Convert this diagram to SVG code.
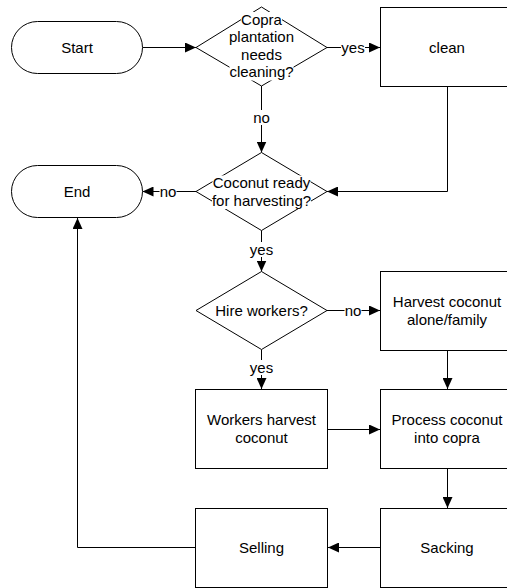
<svg xmlns="http://www.w3.org/2000/svg" width="507" height="588" viewBox="0 0 507 588">
<style>
.s{fill:#fff;stroke:#000;stroke-width:1}
.t{font-family:"Liberation Sans",Arial,sans-serif;font-size:15px;fill:#000;text-anchor:middle}
.c{fill:none;stroke:#000;stroke-width:1}
.bg{fill:#fff;stroke:none}
</style>
<defs>
<marker id="a" markerUnits="userSpaceOnUse" markerWidth="11" markerHeight="10" refX="11" refY="5" orient="auto">
<path d="M0,0 L11,5 L0,10 z" fill="#000"/>
</marker>
</defs>
<rect width="507" height="588" fill="#fff"/>
<g id="connectors">
<path class="c" d="M142.5 47.5 H196" marker-end="url(#a)"/>
<path class="c" d="M327 47.5 H380" marker-end="url(#a)"/>
<path class="c" d="M447.5 86.5 V191.5 H327" marker-end="url(#a)"/>
<path class="c" d="M261.5 86 V152.5" marker-end="url(#a)"/>
<path class="c" d="M196 191.5 H142.5" marker-end="url(#a)"/>
<path class="c" d="M261.5 230.5 V271.5" marker-end="url(#a)"/>
<path class="c" d="M327 310.5 H380" marker-end="url(#a)"/>
<path class="c" d="M447.5 350.5 V389" marker-end="url(#a)"/>
<path class="c" d="M261.5 349.5 V389" marker-end="url(#a)"/>
<path class="c" d="M327.5 429.5 H380" marker-end="url(#a)"/>
<path class="c" d="M447.5 468.5 V508" marker-end="url(#a)"/>
<path class="c" d="M380.5 547.5 H328" marker-end="url(#a)"/>
<path class="c" d="M195.5 547.5 H77.5 V218" marker-end="url(#a)"/>
<rect class="bg" x="341" y="40" width="24" height="15"/>
<text class="t" x="353" y="52.5">yes</text>
<rect class="bg" x="253" y="110" width="17" height="15"/>
<text class="t" x="261.5" y="122.5">no</text>
<rect class="bg" x="159.5" y="184" width="17" height="15"/>
<text class="t" x="168" y="196.5">no</text>
<rect class="bg" x="249.5" y="242" width="24" height="15"/>
<text class="t" x="261.5" y="254.5">yes</text>
<rect class="bg" x="344.5" y="303" width="17" height="15"/>
<text class="t" x="353" y="315.5">no</text>
<rect class="bg" x="249.5" y="360" width="24" height="15"/>
<text class="t" x="261.5" y="372.5">yes</text>
</g>
<g id="start">
<rect class="s" x="11.5" y="21.5" width="131" height="52" rx="26"/>
<text class="t" x="77" y="52.5">Start</text>
</g>
<g id="end">
<rect class="s" x="11.5" y="165.5" width="131" height="52" rx="26"/>
<text class="t" x="77" y="196.5">End</text>
</g>
<g id="d1">
<polygon class="s" points="261.5,7 327,47.5 261.5,86 196,47.5"/>
<rect class="bg" x="241" y="12" width="41" height="16"/>
<rect class="bg" x="229" y="29.5" width="65" height="16"/>
<rect class="bg" x="241" y="47" width="41" height="16"/>
<rect class="bg" x="229.5" y="64.5" width="64" height="16"/>
<text class="t" x="261.5" y="24.5">Copra</text>
<text class="t" x="261.5" y="42">plantation</text>
<text class="t" x="261.5" y="59.5">needs</text>
<text class="t" x="261.5" y="77">cleaning?</text>
</g>
<g id="clean">
<rect class="s" x="380.5" y="7.5" width="133" height="79"/>
<text class="t" x="447" y="52.5">clean</text>
</g>
<g id="d2">
<polygon class="s" points="261.5,152.5 327,191.5 261.5,230.5 196,191.5"/>
<rect class="bg" x="212.5" y="175.5" width="98" height="16"/>
<rect class="bg" x="212" y="193" width="99" height="16"/>
<text class="t" x="261.5" y="188">Coconut ready</text>
<text class="t" x="261.5" y="205.5">for harvesting?</text>
</g>
<g id="d3">
<polygon class="s" points="261.5,271.5 327,310.5 261.5,349.5 196,310.5"/>
<text class="t" x="261.5" y="315.5">Hire workers?</text>
</g>
<g id="harvest">
<rect class="s" x="380.5" y="271.5" width="133" height="79"/>
<text class="t" x="447" y="307">Harvest coconut</text>
<text class="t" x="447" y="324.5">alone/family</text>
</g>
<g id="workers">
<rect class="s" x="195.5" y="389.5" width="132" height="79"/>
<text class="t" x="261.5" y="425">Workers harvest</text>
<text class="t" x="261.5" y="442.5">coconut</text>
</g>
<g id="process">
<rect class="s" x="380.5" y="389.5" width="133" height="79"/>
<text class="t" x="447" y="425">Process coconut</text>
<text class="t" x="447" y="442.5">into copra</text>
</g>
<g id="sacking">
<rect class="s" x="380.5" y="508.5" width="133" height="79"/>
<text class="t" x="447" y="553">Sacking</text>
</g>
<g id="selling">
<rect class="s" x="195.5" y="508.5" width="132" height="79"/>
<text class="t" x="261.5" y="553">Selling</text>
</g>
</svg>
